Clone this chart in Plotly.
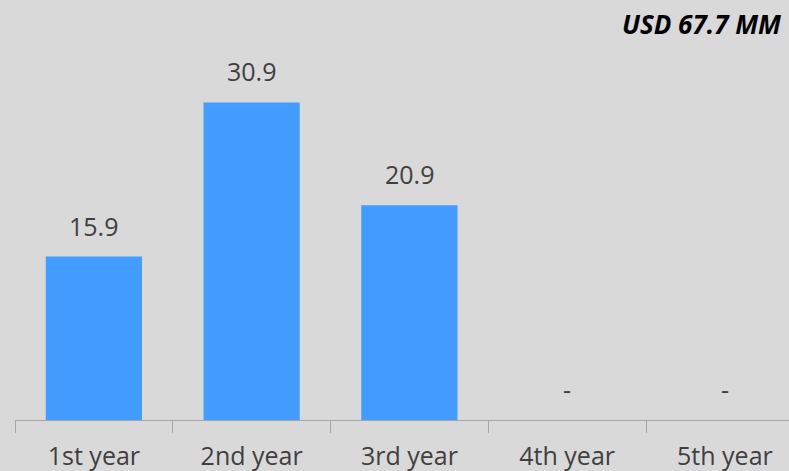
import plotly.graph_objects as go

categories = ["1st year", "2nd year", "3rd year", "4th year", "5th year"]
values = [15.9, 30.9, 20.9, 0, 0]
labels = ["15.9", "30.9", "20.9", "-", "-"]
total_label = "USD 67.7 MM"

W, H = 789, 471
FONT = "Open Sans"
TXT = "#404040"

fig = go.Figure(go.Bar(
    x=categories, y=values,
    marker=dict(color="#439cff", line=dict(width=0)),
    hoverinfo="x+y",
))

annotations = []
for c, v, t in zip(categories, values, labels):
    annotations.append(dict(
        x=c, y=v, xref="x", yref="y", text=t, showarrow=False,
        xanchor="center", yanchor="bottom", yshift=12,
        font=dict(family=FONT, size=25, color=TXT),
    ))
annotations.append(dict(
    x=783 / W, y=1 - 27 / H, xref="paper", yref="paper",
    xanchor="right", yanchor="middle", showarrow=False,
    text="<b><i>" + total_label + "</i></b>",
    font=dict(family=FONT, size=26, color="#000000"),
))

fig.update_layout(
    width=W, height=H,
    margin=dict(l=15, r=0, t=0, b=51),
    paper_bgcolor="#d9d9d9", plot_bgcolor="#d9d9d9",
    bargap=0.39, showlegend=False,
    font=dict(family=FONT, color=TXT),
    xaxis=dict(
        type="category", range=[-0.5, -0.5 + 774 / 157.75],
        showline=True, linecolor="#a6a6a6", linewidth=1,
        ticks="outside", tickson="boundaries", ticklen=12, tickcolor="#a6a6a6",
        tickfont=dict(family=FONT, size=25, color=TXT),
        ticklabelstandoff=14,
        showgrid=False,
    ),
    yaxis=dict(range=[0, 40.86], visible=False, showgrid=False, zeroline=False),
    annotations=annotations,
)
fig.write_html("out.html")
